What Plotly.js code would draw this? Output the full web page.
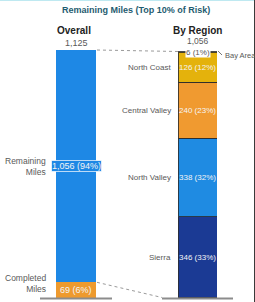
<!DOCTYPE html>
<html><head><meta charset="utf-8">
<script src="https://cdn.plot.ly/plotly-3.0.1.min.js"></script>
<style>html,body{margin:0;padding:0;background:#fff;}#chart{width:255px;height:302px;}</style>
</head><body><div id="chart"></div>
<script>
// ---- data ----
const overallCats = ['Completed Miles', 'Remaining Miles'];
const overallVals = [69, 1056];
const overallPct = ['6%', '94%'];
const overallTotal = 1125;

const regionCats = ['Sierra', 'North Valley', 'Central Valley', 'North Coast', 'Bay Area'];
const regionVals = [346, 338, 240, 126, 6];
const regionPct = ['33%', '32%', '23%', '12%', '1%'];
const regionTotal = 1056;

// ---- styling ----
const W = 255, H = 302;
const overallColors = ['#EE9A2E', '#1E88E5'];
const regionColors = ['#1B3A94', '#1F8BE2', '#F09A30', '#E4B20C', '#E4B20C'];
const gray = '#595959';
const fnt = 'Liberation Sans, Arial, sans-serif';

const px = x => x / W;
const py = y => 1 - y / H;

const base = 297.5;
function rangeFor(total, topPx) {
  const s = total / (base - topPx);
  return [-(H - base) * s, total + topPx * s];
}
const yr1 = rangeFor(overallTotal, 50);
const yr2 = rangeFor(regionTotal, 51.5);
const toPaper = (v, r) => (v - r[0]) / (r[1] - r[0]);

const fmt = v => v.toLocaleString('en-US');

const traces = [];
overallCats.forEach((c, i) => {
  traces.push({type: 'bar', x: ['Overall'], y: [overallVals[i]], width: [1], name: c,
    marker: {color: overallColors[i], line: {width: 0}}, xaxis: 'x', yaxis: 'y',
    hoverinfo: 'none', showlegend: false});
});
regionCats.forEach((c, i) => {
  traces.push({type: 'bar', x: ['By Region'], y: [regionVals[i]], width: [1], name: c,
    marker: {color: regionColors[i], line: {width: 1, color: 'rgba(45,45,45,0.85)'}},
    xaxis: 'x2', yaxis: 'y2', hoverinfo: 'none', showlegend: false});
});

const ann = [];
ann.push({xref: 'paper', yref: 'paper', x: px(135.5), y: py(10), xanchor: 'center', yanchor: 'middle',
  text: '<b>Remaining Miles (Top 10% of Risk)</b>',
  showarrow: false, font: {family: fnt, size: 9, color: '#1F5C70'}});
ann.push({xref: 'paper', yref: 'paper', x: px(74), y: py(31), xanchor: 'center', yanchor: 'middle',
  text: '<b>Overall</b>', showarrow: false, font: {family: fnt, size: 10, color: '#222'}});
ann.push({xref: 'paper', yref: 'paper', x: px(197.5), y: py(31), xanchor: 'center', yanchor: 'middle',
  text: '<b>By Region</b>', showarrow: false, font: {family: fnt, size: 10, color: '#222'}});

// totals
ann.push({xref: 'x', yref: 'y', x: 'Overall', y: overallTotal, yanchor: 'bottom', yshift: 0, text: fmt(overallTotal),
  showarrow: false, font: {family: fnt, size: 9, color: gray}});
ann.push({xref: 'x2', yref: 'y2', x: 'By Region', y: regionTotal, yanchor: 'bottom', yshift: 4, text: fmt(regionTotal),
  showarrow: false, font: {family: fnt, size: 8.5, color: gray}});

// overall segment labels
let cum = 0;
overallCats.forEach((c, i) => {
  const mid = cum + overallVals[i] / 2;
  cum += overallVals[i];
  const isBig = i === 1;
  ann.push({xref: 'x', yref: 'y', x: 'Overall', y: mid, text: fmt(overallVals[i]) + ' (' + overallPct[i] + ')',
    showarrow: false, font: {family: fnt, size: 9, color: '#f4f4f4'},
    bgcolor: isBig ? overallColors[i] : 'rgba(0,0,0,0)', bordercolor: isBig ? 'rgba(255,255,255,0.7)' : 'rgba(0,0,0,0)',
    borderwidth: isBig ? 1 : 0, borderpad: 0});
  const parts = c.split(' ');
  ann.push({xref: 'paper', yref: 'y', x: px(48), xanchor: 'right', yanchor: 'middle', y: mid, yshift: isBig ? 0 : 6,
    text: parts[0] + '<br>' + parts[1], align: 'right', showarrow: false,
    font: {family: fnt, size: 8.5, color: gray}});
});

// region segment labels
cum = 0;
regionCats.forEach((c, i) => {
  const mid = cum + regionVals[i] / 2;
  cum += regionVals[i];
  const lab = fmt(regionVals[i]) + ' (' + regionPct[i] + ')';
  if (i === regionCats.length - 1) {
    ann.push({xref: 'x2', yref: 'y2', x: 'By Region', y: mid, text: lab, showarrow: false,
      font: {family: fnt, size: 8, color: gray}, bgcolor: '#fff', borderpad: 0});
    ann.push({xref: 'paper', yref: 'y2', x: px(223), xanchor: 'left', yanchor: 'middle', y: mid, yshift: -3, text: c,
      showarrow: false, font: {family: fnt, size: 7.5, color: gray}});
  } else {
    ann.push({xref: 'x2', yref: 'y2', x: 'By Region', y: mid, text: lab, showarrow: false,
      font: {family: fnt, size: 8, color: '#f4f4f4'}});
    ann.push({xref: 'paper', yref: 'y2', x: px(173), xanchor: 'right', yanchor: 'middle', y: mid, text: c, showarrow: false,
      font: {family: fnt, size: 8, color: gray}});
  }
});

const shapes = [
  {type: 'line', xref: 'paper', yref: 'paper', x0: px(40), x1: px(112), y0: py(298.5), y1: py(298.5), line: {color: '#8c8c8c', width: 2}},
  {type: 'line', xref: 'paper', yref: 'paper', x0: px(162), x1: px(233), y0: py(298.5), y1: py(298.5), line: {color: '#8c8c8c', width: 2}},
  {type: 'line', xref: 'paper', yref: 'paper', x0: px(97), x1: px(178),
    y0: toPaper(overallTotal, yr1), y1: toPaper(regionTotal, yr2), line: {color: '#9a9a9a', width: 1, dash: 'dot'}},
  {type: 'line', xref: 'paper', yref: 'paper', x0: px(97), x1: px(162),
    y0: toPaper(overallVals[0], yr1), y1: toPaper(0, yr2), line: {color: '#9a9a9a', width: 1, dash: 'dot'}},
  {type: 'line', xref: 'paper', yref: 'paper', x0: px(218), x1: px(222), y0: py(51), y1: py(55), line: {color: '#777', width: 1}},
  {type: 'line', xref: 'paper', yref: 'paper', x0: 0, x1: 1, y0: 1, y1: 1, line: {color: '#bfe9f1', width: 2}},
  {type: 'line', xref: 'paper', yref: 'paper', x0: px(254.5), x1: px(254.5), y0: 0, y1: 1, line: {color: '#3a3a3a', width: 1}}
];

const layout = {
  width: W, height: H, margin: {l: 0, r: 0, t: 0, b: 0},
  paper_bgcolor: '#fff', plot_bgcolor: 'rgba(0,0,0,0)',
  barmode: 'stack', bargap: 0, showlegend: false,
  xaxis: {domain: [px(56), px(96)], type: 'category', range: [-0.5, 0.5], visible: false, fixedrange: true},
  yaxis: {domain: [0, 1], range: yr1, visible: false, fixedrange: true},
  xaxis2: {domain: [px(178), px(217)], type: 'category', range: [-0.5, 0.5], visible: false, anchor: 'y2', fixedrange: true},
  yaxis2: {domain: [0, 1], range: yr2, visible: false, anchor: 'x2', fixedrange: true},
  annotations: ann, shapes: shapes
};
Plotly.newPlot('chart', traces, layout, {displayModeBar: false, staticPlot: true});
</script></body></html>
